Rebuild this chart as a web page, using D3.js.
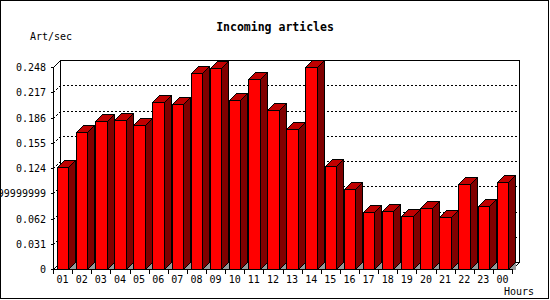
<!DOCTYPE html>
<html>
<head>
<meta charset="utf-8">
<script src="https://cdn.jsdelivr.net/npm/d3@7"></script>
<style>
  body { margin: 0; background: #fff; }
  svg { display: block; }
  text { font-family: "DejaVu Sans Mono", monospace; font-size: 10px; fill: #000; }
</style>
</head>
<body>
<svg id="chart" width="550" height="300"></svg>
<script>
// data
const hours = ["01","02","03","04","05","06","07","08","09","10","11","12",
               "13","14","15","16","17","18","19","20","21","22","23","00"];
const artPerSec = [0.1252, 0.1678, 0.1813, 0.1826, 0.1764, 0.2046, 0.2026, 0.2402,
                   0.2464, 0.2071, 0.2329, 0.1948, 0.1715, 0.2476, 0.1261, 0.0978,
                   0.0696, 0.0708, 0.0647, 0.0745, 0.0635, 0.1044, 0.0770, 0.1064];
const yTicks = [0, 0.031, 0.062, 0.093, 0.124, 0.155, 0.186, 0.217, 0.248];
const yTickLabels = ["0", "0.031", "0.062", "0.09299999999", "0.124", "0.155", "0.186", "0.217", "0.248"];

const svg = d3.select("#chart");
const plotL = 53, plotR = 512, plotT = 67, plotB = 269, depth = 7;

const x = d3.scaleBand().domain(hours).range([plotL, plotR])
  .paddingInner(0.4).paddingOuter(0.2);
const y = d3.scaleLinear().domain([0, 0.248]).range([plotB, plotT]);

const p = v => Math.round(v) + 0.5;   // crisp pixel positions
const line = d3.line();

// outer border
svg.append("rect").attr("x", 0.5).attr("y", 0.5).attr("width", 548).attr("height", 298)
  .attr("fill", "none").attr("stroke", "#000");

// title and axis names
svg.append("text").attr("x", 275).attr("y", 31).attr("text-anchor", "middle")
  .style("font-size", "11.5px").style("font-weight", "bold").text("Incoming articles");
svg.append("text").attr("x", 30).attr("y", 40).text("Art/sec");
svg.append("text").attr("x", 534).attr("y", 295).attr("text-anchor", "end").text("Hours");

const g = svg.append("g").attr("shape-rendering", "crispEdges")
  .attr("fill", "none").attr("stroke", "#000");

// dotted grid on back wall
yTicks.slice(1, -1).forEach(t => {
  const yy = p(y(t));
  g.append("path").attr("stroke-dasharray", "2,2")
    .attr("d", line([[p(plotL), yy], [p(plotL) + depth, yy - depth], [p(plotR) + depth, yy - depth]]));
});

// back wall frame
const bx0 = p(plotL) + depth, bx1 = p(plotR) + depth, by0 = p(plotT) - depth, by1 = p(plotB) - depth;
g.append("path").attr("d", line([[bx0, by1], [bx0, by0], [bx1, by0], [bx1, by1], [bx0, by1]]));
g.append("path").attr("d", line([[p(plotL), p(plotT)], [bx0, by0]]));
g.append("path").attr("d", line([[p(plotL), p(plotB)], [bx0, by1]]));
g.append("path").attr("d", line([[p(plotR), p(plotB)], [bx1, by1]]));

// bars
const bw = x.bandwidth();
hours.forEach((h, i) => {
  const x0 = p(x(h)), x1 = p(x(h) + bw), yt = p(y(artPerSec[i])), yb = p(plotB);
  g.append("path").attr("fill", "#999999").attr("stroke", "none")
    .attr("d", line([[x1, yb], [x1 + depth, yb - depth], [x1 + depth, yb]]) + "Z");
  g.append("path").attr("fill", "#ff0000")
    .attr("d", line([[x0, yt], [x1, yt], [x1, yb], [x0, yb]]) + "Z");
  g.append("path").attr("fill", "#c00000")
    .attr("d", line([[x0, yt], [x0 + depth, yt - depth], [x1 + depth, yt - depth], [x1, yt]]) + "Z");
  g.append("path").attr("fill", "#800000")
    .attr("d", line([[x1, yt], [x1 + depth, yt - depth], [x1 + depth, yb - depth], [x1, yb]]) + "Z");
});

// front axes
g.append("path").attr("d", line([[p(plotL), p(plotT)], [p(plotL), p(plotB)], [p(plotR), p(plotB)]]));

// y ticks and labels
yTicks.forEach((t, i) => {
  g.append("path").attr("d", line([[p(plotL) - 3, p(y(t))], [p(plotL), p(y(t))]]));
  svg.append("text").attr("x", 46).attr("y", Math.round(y(t)) + 4)
    .attr("text-anchor", "end").text(yTickLabels[i]);
});

// x ticks and labels
const step = x.step();
d3.range(hours.length + 1).forEach(i => {
  const xx = p(plotL + i * step);
  g.append("path").attr("d", line([[xx, p(plotB)], [xx, p(plotB) + 4]]));
});
hours.forEach(h => {
  svg.append("text").attr("x", x(h) + bw / 2).attr("y", 283)
    .attr("text-anchor", "middle").text(h);
});
</script>
</body>
</html>
